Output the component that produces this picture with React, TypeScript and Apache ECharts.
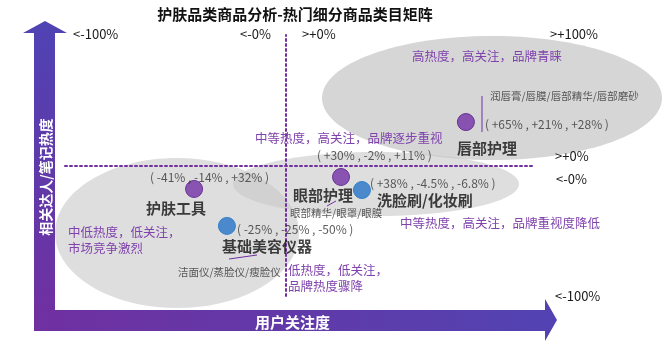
import React, { useEffect, useRef } from 'react';
import * as echarts from 'echarts';

// ---------- data ----------
const chartTitle = '护肤品类商品分析-热门细分商品类目矩阵';
const xAxisName = '用户关注度';
const yAxisName = '相关达人/笔记热度';

const categories = ['唇部护理', '眼部护理', '洗脸刷/化妆刷', '护肤工具', '基础美容仪器'];
const xValues = [82, 25.3, 34.8, -41.4, -26.5];
const yValues = [33.3, -8.8, -18.8, -18.0, -46.3];
const growthTexts = [
  '( +65% , +21% , +28% )',
  '( +30% , -2% , +11% )',
  '( +38% , -4.5% , -6.8% )',
  '( -41% , -14% , +32% )',
  '( -25% , -25% , -50% )',
];
const subItems = ['润唇膏/唇膜/唇部精华/唇部磨砂', '眼部精华/眼罩/眼膜', '', '', '洁面仪/蒸脸仪/瘦脸仪'];
const groups = ['purple', 'purple', 'blue', 'purple', 'blue'];

const topRangeLabels = ['<-100%', '<-0%', '>+0%', '>+100%'];
const rightRangeLabels = ['>+0%', '<-0%', '<-100%'];
const quadrantNotes = [
  ['高热度，高关注，品牌青睐'],
  ['中等热度，高关注，品牌逐步重视'],
  ['中等热度，高关注，品牌重视度降低'],
  ['中低热度，低关注，', '市场竞争激烈'],
  ['低热度，低关注，', '品牌热度骤降'],
];

// ---------- layout / styles ----------
const FONT = '"Noto Sans CJK SC", "Noto Sans", sans-serif';
const groupColor: Record<string, string> = { purple: '#7331a6', blue: '#2676c8' };
const groupBorder: Record<string, string> = { purple: '#5a1f88', blue: '#2676c8' };
const nameOffsets = [[-9, 25], [-48, 18], [15, 9], [-48, 19], [-5, 20]];
const growthOffsets = [[19, 1], [-24, -22], [8, -8], [-44, -12], [10, 3]];
const subOffsets = [[24, -27], [-51, 36], [0, 0], [0, 0], [-49, 46]];
const topLabelPos = [[73, 33], [240, 33], [302, 33], [550, 33]];
const rightLabelPos = [[555, 155], [556, 178], [555, 295]];
const notePos = [[412, 55], [255, 137], [400, 222], [68, 231], [288, 269]];

export default function App() {
  const ref = useRef<HTMLDivElement>(null);

  useEffect(() => {
    if (!ref.current) return;
    const chart = echarts.init(ref.current, undefined, { renderer: 'svg' });

    const textEl = (x: number, y: number, text: string, font: string, fill: string, align = 'left', extra: any = {}) => ({
      type: 'text',
      z: 20,
      ...extra,
      style: {
        x, y, text, font, fill,
        align, textAlign: align,
        verticalAlign: 'middle', textVerticalAlign: 'middle',
      },
    });

    const graphics: any[] = [
      // ellipses
      { type: 'ellipse', z: 1, shape: { cx: 177, cy: 233, rx: 122, ry: 75 }, style: { fill: 'rgba(200,200,200,0.6)' } },
      { type: 'ellipse', z: 1, shape: { cx: 376, cy: 184, rx: 143, ry: 32 }, style: { fill: 'rgba(200,200,200,0.6)' } },
      { type: 'ellipse', z: 1, shape: { cx: 492, cy: 98, rx: 170, ry: 62 }, style: { fill: 'rgba(200,200,200,0.75)' } },
      // arrows
      {
        type: 'polygon', z: 10,
        shape: { points: [[23, 33], [45, 21], [67, 33], [55, 33], [55, 320], [34, 320], [34, 33]] },
        style: {
          fill: new echarts.graphic.LinearGradient(0, 0, 0, 1, [
            { offset: 0, color: '#4f43b4' },
            { offset: 1, color: '#7030a0' },
          ]),
        },
      },
      {
        type: 'polygon', z: 10,
        shape: { points: [[34, 310], [545, 310], [545, 299], [557, 320], [545, 341], [545, 331], [34, 331]] },
        style: {
          fill: new echarts.graphic.LinearGradient(0, 0, 1, 0, [
            { offset: 0, color: '#7030a0' },
            { offset: 1, color: '#5243b2' },
          ]),
        },
      },
      textEl(45, 177, yAxisName, `bold 14px ${FONT}`, '#ffffff', 'center', { rotation: Math.PI / 2, x: 0, y: 0, originX: 45, originY: 177 }),
      textEl(255, 321, xAxisName, `bold 15px ${FONT}`, '#ffffff'),
      textEl(295, 13, chartTitle, `bold 15px ${FONT}`, '#111111', 'center'),
      // connector lines
      { type: 'line', z: 12, shape: { x1: 482, y1: 96, x2: 482, y2: 132 }, style: { stroke: '#7030a0', lineWidth: 1 } },
      { type: 'line', z: 12, shape: { x1: 327, y1: 206, x2: 336, y2: 201 }, style: { stroke: '#7030a0', lineWidth: 1 } },
      { type: 'line', z: 12, shape: { x1: 229, y1: 259, x2: 257, y2: 255 }, style: { stroke: '#7030a0', lineWidth: 1 } },
    ];
    topRangeLabels.forEach((t, i) => graphics.push(textEl(topLabelPos[i][0], topLabelPos[i][1], t, `13px ${FONT}`, '#1a1a1a')));
    rightRangeLabels.forEach((t, i) => graphics.push(textEl(rightLabelPos[i][0], rightLabelPos[i][1], t, `13px ${FONT}`, '#1a1a1a')));
    quadrantNotes.forEach((lines, i) =>
      lines.forEach((t, j) => graphics.push(textEl(notePos[i][0], notePos[i][1] + j * 16, t, `12.5px ${FONT}`, '#8043ad')))
    );

    const hiddenAxis = (min: number, max: number) => ({
      type: 'value', min, max, z: 3,
      axisLine: { show: true, onZero: true, lineStyle: { color: '#7030a0', width: 2, type: [2, 3] } },
      axisTick: { show: false }, axisLabel: { show: false }, splitLine: { show: false },
    });

    const baseLabel = { show: true, position: 'inside', align: 'left', verticalAlign: 'middle' };

    chart.setOption({
      animation: false,
      grid: { left: 65, right: 131, top: 35, bottom: 45 },
      xAxis: hiddenAxis(-100, 112),
      yAxis: hiddenAxis(-100, 100),
      graphic: { elements: graphics },
      series: [
        {
          type: 'scatter', z: 5, clip: false, symbolSize: 17,
          data: categories.map((c, i) => ({
            name: c,
            value: [xValues[i], yValues[i]],
            itemStyle: { color: groupColor[groups[i]], borderColor: groupBorder[groups[i]], borderWidth: 1 },
            label: { ...baseLabel, offset: nameOffsets[i], formatter: c, color: '#111111', fontFamily: FONT, fontWeight: 'bold', fontSize: 15 },
          })),
        },
        {
          type: 'scatter', z: 6, clip: false, symbolSize: 1, silent: true,
          itemStyle: { color: 'rgba(0,0,0,0)' },
          data: growthTexts.map((t, i) => ({
            value: [xValues[i], yValues[i]],
            label: { ...baseLabel, offset: growthOffsets[i], formatter: t, color: '#333333', fontFamily: FONT, fontSize: 12 },
          })),
        },
        {
          type: 'scatter', z: 6, clip: false, symbolSize: 1, silent: true,
          itemStyle: { color: 'rgba(0,0,0,0)' },
          data: subItems
            .map((t, i) => ({ t, i }))
            .filter((d) => d.t)
            .map(({ t, i }) => ({
              value: [xValues[i], yValues[i]],
              label: { ...baseLabel, offset: subOffsets[i], formatter: t, color: '#333333', fontFamily: FONT, fontSize: 10.5 },
            })),
        },
      ],
    });

    return () => chart.dispose();
  }, []);

  return <div ref={ref} style={{ position: 'fixed', left: 0, top: 0, width: 663, height: 341 }} />;
}
